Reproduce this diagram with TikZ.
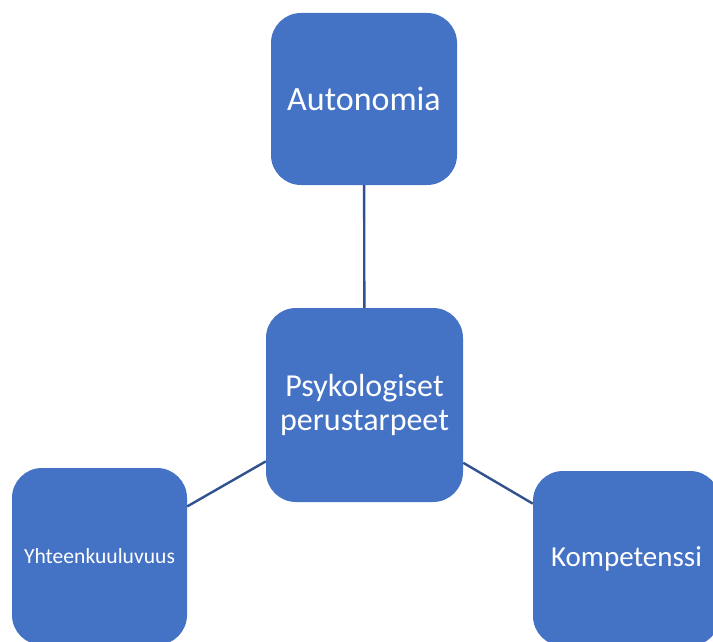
\documentclass[tikz,border=0pt]{standalone}
\usepackage{fontspec}
\setmainfont{Carlito}
\definecolor{boxblue}{HTML}{4472C4}
\definecolor{lineblue}{HTML}{2F528F}
\begin{document}
\begin{tikzpicture}[x=1pt,y=-1pt,
  box/.style={fill=boxblue, rounded corners=30pt, text=white, align=center, inner sep=0pt},
  link/.style={draw=lineblue, line width=2.4pt}]
\useasboundingbox (0,0) rectangle (713,642);
\clip (0,0) rectangle (713,642);
\node[box, minimum width=186pt, minimum height=172pt, font=\fontsize{34}{40}\selectfont] (aut) at (364,99) {Autonomia};
\node[box, minimum width=197pt, minimum height=194pt, font=\fontsize{32}{34}\selectfont] (psy) at (364.5,405) {Psykologiset\\perustarpeet};
\node[box, minimum width=175pt, minimum height=177pt, font=\fontsize{21.6}{25}\selectfont] (yht) at (99.5,556.5) {Yhteenkuuluvuus};
\node[box, minimum width=187pt, minimum height=175pt, font=\fontsize{29}{34}\selectfont] (kom) at (626.5,558.5) {Kompetenssi};
\draw[link] (aut) -- (psy);
\draw[link] (psy) -- (yht);
\draw[link] (psy) -- (kom);
\end{tikzpicture}
\end{document}
